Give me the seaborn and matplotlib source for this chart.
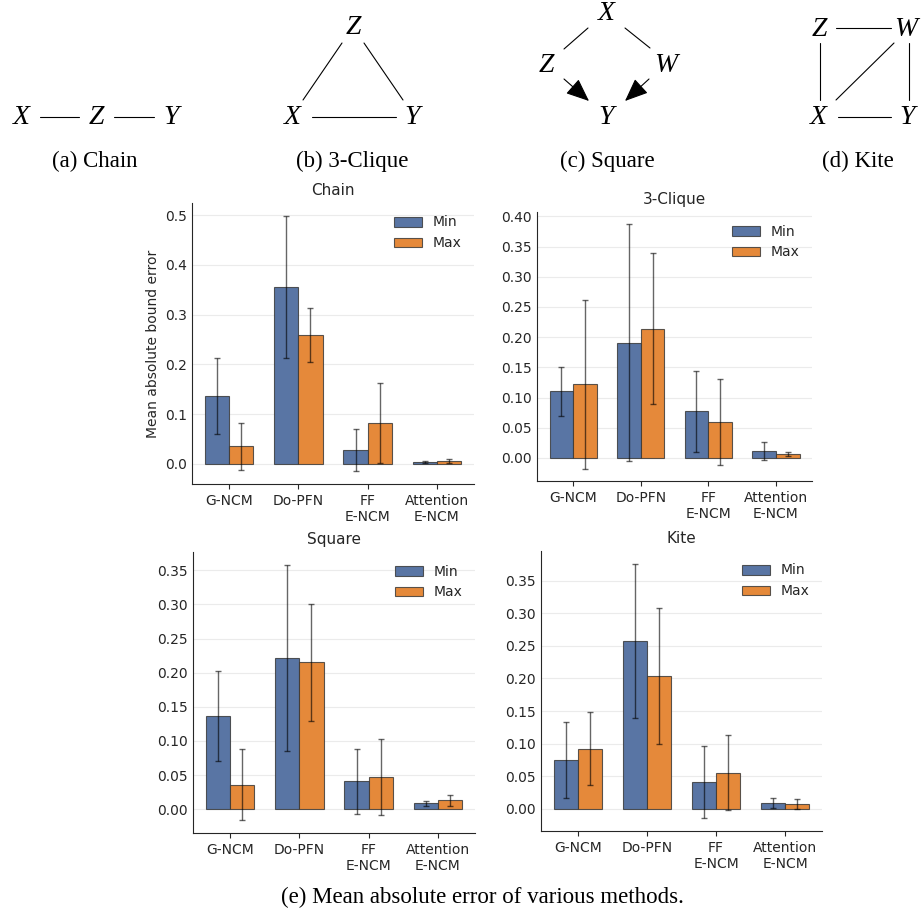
import matplotlib.pyplot as plt
import numpy as np
import pandas as pd
import seaborn as sns

# methods on the x axis
methods = ["G-NCM", "Do-PFN", "FF\nE-NCM", "Attention\nE-NCM"]
bounds = ["Min", "Max"]

# mean absolute bound error (bar height) and its spread (error bar half-length)
chain_min = [0.136, 0.356, 0.027, 0.003]
chain_max = [0.035, 0.259, 0.082, 0.005]
chain_min_err = [0.077, 0.143, 0.042, 0.002]
chain_max_err = [0.047, 0.054, 0.080, 0.004]

clique_min = [0.110, 0.191, 0.077, 0.011]
clique_max = [0.122, 0.214, 0.060, 0.007]
clique_min_err = [0.041, 0.196, 0.067, 0.015]
clique_max_err = [0.140, 0.125, 0.071, 0.0035]

square_min = [0.136, 0.222, 0.041, 0.0085]
square_max = [0.036, 0.215, 0.047, 0.013]
square_min_err = [0.066, 0.136, 0.048, 0.0035]
square_max_err = [0.052, 0.085, 0.056, 0.0075]

kite_min = [0.075, 0.258, 0.041, 0.0087]
kite_max = [0.092, 0.204, 0.0555, 0.007]
kite_min_err = [0.058, 0.118, 0.0555, 0.0075]
kite_max_err = [0.056, 0.104, 0.058, 0.0075]

panels = [
    ("Chain", chain_min, chain_max, chain_min_err, chain_max_err),
    ("3-Clique", clique_min, clique_max, clique_min_err, clique_max_err),
    ("Square", square_min, square_max, square_min_err, square_max_err),
    ("Kite", kite_min, kite_max, kite_min_err, kite_max_err),
]

W, H = 922, 911
# axes boxes in pixels: left, top, right, bottom
boxes = [(192, 203, 474, 484), (537, 212, 812, 481),
         (193, 552, 475, 833), (541, 551, 822, 831)]

colors = ["#5975a4", "#e5893a"]

sns.set_style("ticks")
plt.rcParams["font.family"] = ["DejaVu Sans"]
fig = plt.figure(figsize=(W / 100, H / 100), dpi=100)

# overlay for the causal graph diagrams and captions (pixel coordinates)
ov = fig.add_axes([0, 0, 1, 1])
ov.set_xlim(0, W)
ov.set_ylim(H, 0)
ov.axis("off")

serif = ["Liberation Serif", "DejaVu Serif"]
node_kw = dict(family=serif, style="italic", fontsize=20, ha="center", va="center", color="black")
cap_kw = dict(family=serif, fontsize=16.5, ha="center", va="center", color="black")

nodes = [
    ("X", 21, 118), ("Z", 96, 118), ("Y", 171, 118),                    # chain
    ("Z", 353, 28), ("X", 292, 118), ("Y", 412, 118),                   # 3-clique
    ("X", 606, 14), ("Z", 546, 66), ("W", 666, 66), ("Y", 606, 118),    # square
    ("Z", 819, 29), ("W", 906, 29), ("X", 818, 118), ("Y", 907, 118),   # kite
]
for lab, x, y in nodes:
    ov.text(x, y, lab, **node_kw)

edges = [
    ((40, 117), (79, 117)), ((114, 117), (154, 117)),
    ((342, 43), (303, 100)), ((364, 43), (403, 100)), ((312, 117), (396, 117)),
    ((588, 28), (564, 49)), ((625, 28), (650, 48)),
    ((836, 28), (891, 28)), ((820, 43), (820, 100)), ((909, 43), (909, 100)),
    ((836, 100), (894, 43)), ((838, 117), (891, 117)),
]
for (x0, y0), (x1, y1) in edges:
    ov.plot([x0, x1], [y0, y1], color="black", lw=0.8)

for (x0, y0), (x1, y1) in [((564, 79), (589, 101)), ((649, 79), (625, 101))]:
    ov.annotate("", xy=(x1, y1), xytext=(x0, y0),
                arrowprops=dict(arrowstyle="-|>,head_length=0.6,head_width=0.25",
                                mutation_scale=24, color="black",
                                lw=0.8, shrinkA=0, shrinkB=0))

for lab, x in [("(a) Chain", 95), ("(b) 3-Clique", 352), ("(c) Square", 607), ("(d) Kite", 858)]:
    ov.text(x, 161, lab, **cap_kw)
ov.text(482, 897, "(e) Mean absolute error of various methods.", **cap_kw)

for i, ((title, vmin, vmax, emin, emax), (l, t, r, b)) in enumerate(zip(panels, boxes)):
    ax = fig.add_axes([l / W, 1 - b / H, (r - l) / W, (b - t) / H])
    df = pd.DataFrame({
        "method": methods * 2,
        "bound": ["Min"] * 4 + ["Max"] * 4,
        "value": vmin + vmax,
    })
    sns.barplot(data=df, x="method", y="value", hue="bound", hue_order=bounds,
                order=methods, palette=colors, saturation=1, width=0.7,
                errorbar=None, edgecolor=(0.2, 0.2, 0.2, 0.8), linewidth=0.8, ax=ax)
    for cont, err in zip(ax.containers, [emin, emax]):
        xs = [p.get_x() + p.get_width() / 2 for p in cont.patches]
        ys = [p.get_height() for p in cont.patches]
        ax.errorbar(xs, ys, yerr=err, fmt="none", ecolor="black", alpha=0.6,
                    elinewidth=1, capsize=2.5, capthick=1)
    ax.autoscale(axis="y")
    ax.margins(y=0.05)
    ax.set_title(title, fontsize=11)
    ax.set_xlabel("")
    ax.set_ylabel("Mean absolute bound error" if i == 0 else "", fontsize=10)
    ax.tick_params(labelsize=10)
    ax.tick_params(axis="y", length=0)
    ax.yaxis.grid(True, color="#ebebeb", lw=0.8)
    ax.set_axisbelow(True)
    sns.despine(ax=ax)
    sns.move_legend(ax, "upper right", frameon=False, title=None, fontsize=10)

fig.savefig("out.png", dpi=100)
